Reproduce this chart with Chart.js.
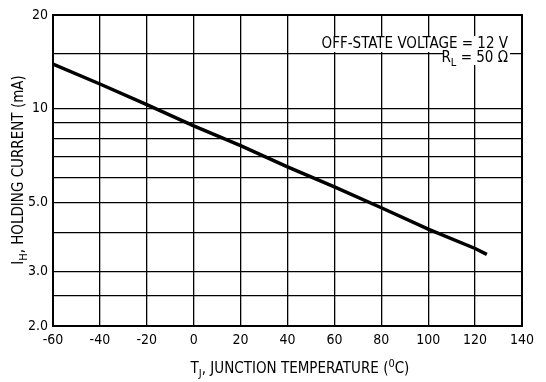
<!DOCTYPE html>
<html lang="en">
<head>
<meta charset="UTF-8">
<title>Holding Current vs Junction Temperature</title>
<style>
  html, body { margin: 0; padding: 0; background: #fff; }
  .wrap { width: 546px; height: 382px; }
</style>
</head>
<body>
<div class="wrap"><canvas id="chart" width="546" height="382"></canvas></div>
<script src="https://cdn.jsdelivr.net/npm/chart.js"></script>
<script>
// values
const temps = [-60, -40, -20, 0, 20, 40, 60, 80, 100, 120, 125];
const holdingCurrent = [13.9, 12.0, 10.3, 8.8, 7.6, 6.5, 5.6, 4.8, 4.1, 3.55, 3.4];

const xTicks = [-60, -40, -20, 0, 20, 40, 60, 80, 100, 120, 140];
const yGrid = [2, 2.5, 3, 4, 5, 6, 7, 8, 9, 10, 15, 20];
const yLabels = { 2: '2.0', 3: '3.0', 5: '5.0', 10: '10', 20: '20' };

const FAMILY = "'Liberation Sans Narrow', 'DejaVu Sans Condensed', 'Roboto Condensed', sans-serif";

// draws a string made of parts, some of them sub/superscript
function drawParts(ctx, parts, x, y, size, align) {
  const big = size + 'px ' + FAMILY;
  const small = Math.round(size * 0.72) + 'px ' + FAMILY;
  let total = 0;
  parts.forEach(p => {
    ctx.font = p.sub || p.sup ? small : big;
    p.w = ctx.measureText(p.t).width;
    total += p.w;
  });
  let cx = align === 'right' ? x - total : align === 'center' ? x - total / 2 : x;
  ctx.textBaseline = 'middle';
  ctx.textAlign = 'left';
  parts.forEach(p => {
    ctx.font = p.sub || p.sup ? small : big;
    let dy = p.sub ? size * 0.35 : p.sup ? -size * 0.3 : 0;
    ctx.fillText(p.t, cx, y + dy);
    cx += p.w;
  });
  return total;
}

const extras = {
  id: 'extras',
  afterDatasetsDraw(chart) {
    const ctx = chart.ctx;
    const a = chart.chartArea;
    ctx.save();
    ctx.fillStyle = '#000';

    // note in the upper right corner, on a white ground
    const note1 = [{ t: 'OFF-STATE VOLTAGE = 12 V' }];
    const note2 = [{ t: 'R' }, { t: 'L', sub: true }, { t: ' = 50 \u03A9' }];
    const right = a.right - 14;
    ctx.font = '15px ' + FAMILY;
    const w1 = ctx.measureText(note1[0].t).width;
    ctx.fillStyle = '#fff';
    ctx.fillRect(right - w1 - 3, 36, w1 + 6, 16);
    ctx.fillRect(right - 64, 52, 66, 13);
    ctx.fillStyle = '#000';
    drawParts(ctx, note1, right, 44, 15, 'right');
    drawParts(ctx, note2, right, 58, 15, 'right');

    // frame
    ctx.lineWidth = 2;
    ctx.strokeStyle = '#000';
    ctx.strokeRect(a.left, a.top, a.right - a.left, a.bottom - a.top);

    // axis titles
    drawParts(ctx, [{ t: 'T' }, { t: 'J', sub: true }, { t: ', JUNCTION TEMPERATURE (' }, { t: '0', sup: true }, { t: 'C)' }], 300, 369, 15, 'center');
    ctx.translate(19, 170);
    ctx.rotate(-Math.PI / 2);
    drawParts(ctx, [{ t: 'I' }, { t: 'H', sub: true }, { t: ', HOLDING CURRENT (mA)' }], 0, 0, 15, 'center');
    ctx.restore();
  }
};

const points = temps.map((t, i) => ({ x: t, y: holdingCurrent[i] }));
const tickFont = { family: FAMILY, size: 14 };

new Chart(document.getElementById('chart').getContext('2d'), {
  type: 'line',
  data: {
    datasets: [{
      data: points,
      borderColor: '#000',
      borderWidth: 3.5,
      pointRadius: 0,
      tension: 0,
      fill: false
    }]
  },
  options: {
    responsive: false,
    animation: false,
    layout: { padding: { top: 15, right: 24, left: 0, bottom: 0 } },
    plugins: { legend: { display: false }, tooltip: { enabled: false } },
    scales: {
      x: {
        type: 'linear',
        min: -60,
        max: 140,
        afterBuildTicks: s => { s.ticks = xTicks.map(v => ({ value: v })); },
        afterFit: s => { s.height = 56; },
        ticks: { color: '#000', font: tickFont, padding: 6, maxRotation: 0, autoSkip: false, callback: v => String(v) },
        grid: { color: '#000', lineWidth: 1.3, drawTicks: false },
        border: { color: '#000', width: 2 }
      },
      y: {
        type: 'logarithmic',
        min: 2,
        max: 20,
        afterBuildTicks: s => { s.ticks = yGrid.map(v => ({ value: v })); },
        afterFit: s => { s.width = 53; },
        ticks: { color: '#000', font: tickFont, padding: 5, autoSkip: false, callback: v => yLabels[v] || '' },
        grid: { color: '#000', lineWidth: 1.3, drawTicks: false },
        border: { color: '#000', width: 2 }
      }
    }
  },
  plugins: [extras]
});
</script>
</body>
</html>
